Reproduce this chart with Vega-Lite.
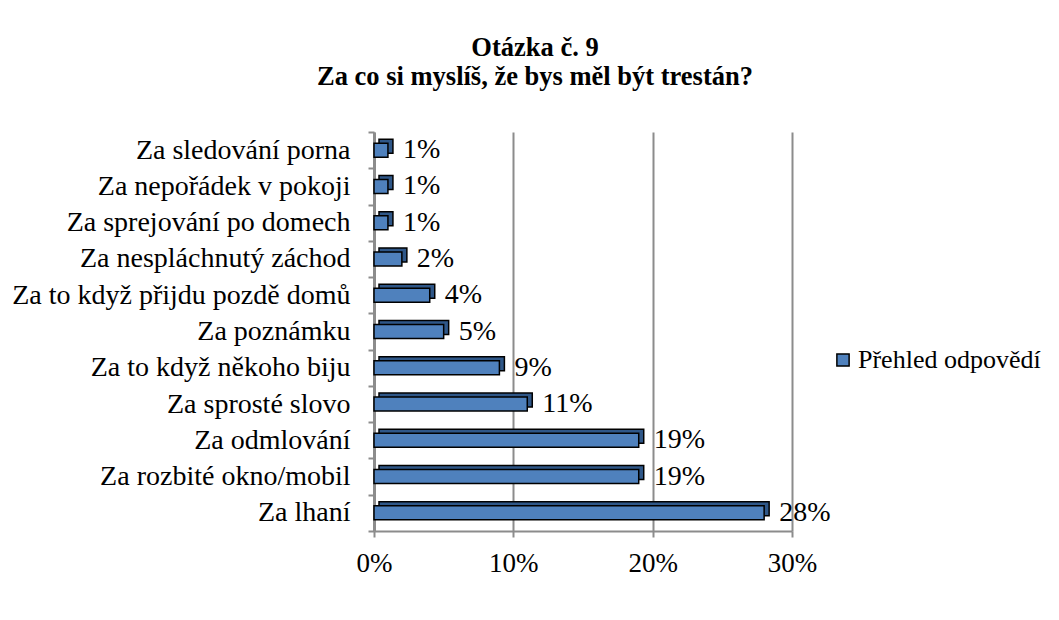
{
  "$schema": "https://vega.github.io/schema/vega-lite/v6.json",
  "autosize": {"type": "none"},
  "padding": {"left": 374, "top": 132, "right": 267, "bottom": 89},
  "width": 418,
  "height": 399,
  "background": "white",
  "title": {
    "text": ["Otázka č. 9", "Za co si myslíš, že bys měl být trestán?"],
    "font": "Liberation Serif",
    "fontSize": 26.5,
    "fontWeight": "bold",
    "color": "black",
    "lineHeight": 29,
    "anchor": "middle",
    "dx": -48,
    "offset": 28
  },
  "config": {
    "view": {"stroke": null},
    "font": "Liberation Serif"
  },
  "data": {
    "values": [
      {"kategorie": "Za sledování porna", "podil": 0.01, "serie": "Přehled odpovědí"},
      {"kategorie": "Za nepořádek v pokoji", "podil": 0.01, "serie": "Přehled odpovědí"},
      {"kategorie": "Za sprejování po domech", "podil": 0.01, "serie": "Přehled odpovědí"},
      {"kategorie": "Za nespláchnutý záchod", "podil": 0.02, "serie": "Přehled odpovědí"},
      {"kategorie": "Za to když přijdu pozdě domů", "podil": 0.04, "serie": "Přehled odpovědí"},
      {"kategorie": "Za poznámku", "podil": 0.05, "serie": "Přehled odpovědí"},
      {"kategorie": "Za to když někoho biju", "podil": 0.09, "serie": "Přehled odpovědí"},
      {"kategorie": "Za sprosté slovo", "podil": 0.11, "serie": "Přehled odpovědí"},
      {"kategorie": "Za odmlování", "podil": 0.19, "serie": "Přehled odpovědí"},
      {"kategorie": "Za rozbité okno/mobil", "podil": 0.19, "serie": "Přehled odpovědí"},
      {"kategorie": "Za lhaní", "podil": 0.28, "serie": "Přehled odpovědí"}
    ]
  },
  "encoding": {
    "y": {
      "field": "kategorie",
      "type": "nominal",
      "sort": null,
      "title": null,
      "scale": {"paddingInner": 0, "paddingOuter": 0},
      "axis": {
        "labelFont": "Liberation Serif",
        "labelFontSize": 28,
        "labelColor": "black",
        "labelPadding": 18,
        "labelLimit": 400,
        "domainColor": "#8c8c8c",
        "domainWidth": 3,
        "tickColor": "#8c8c8c",
        "tickWidth": 2,
        "tickSize": 6,
        "tickBand": "extent",
        "grid": false
      }
    },
    "x": {
      "field": "podil",
      "type": "quantitative",
      "title": null,
      "scale": {"domain": [0, 0.3], "nice": false},
      "axis": {
        "values": [0, 0.1, 0.2, 0.3],
        "format": ".0%",
        "labelFont": "Liberation Serif",
        "labelFontSize": 27,
        "labelColor": "black",
        "labelFlush": false,
        "labelPadding": 13,
        "domainColor": "#8c8c8c",
        "domainWidth": 2,
        "tickColor": "#8c8c8c",
        "tickWidth": 2,
        "tickSize": 6,
        "grid": true,
        "gridColor": "#8c8c8c",
        "gridWidth": 2
      }
    }
  },
  "layer": [
    {
      "mark": {"type": "bar", "size": 14, "xOffset": 5, "x2Offset": 5, "yOffset": -4, "y2Offset": -4, "fill": "#2f5788", "stroke": "black", "strokeWidth": 1.5}
    },
    {
      "mark": {"type": "bar", "size": 14, "stroke": "black", "strokeWidth": 1.5},
      "encoding": {
        "color": {
          "field": "serie",
          "type": "nominal",
          "scale": {"range": ["#4f81bd"]},
          "legend": {
            "title": null,
            "orient": "none",
            "legendX": 456,
            "legendY": 215,
            "symbolType": "square",
            "symbolSize": 150,
            "symbolStrokeColor": "black",
            "symbolStrokeWidth": 1.5,
            "labelOffset": 2,
            "labelFont": "Liberation Serif",
            "labelFontSize": 26,
            "labelColor": "black",
            "labelLimit": 300
          }
        }
      }
    },
    {
      "mark": {"type": "text", "align": "left", "baseline": "middle", "dx": 15, "font": "Liberation Serif", "fontSize": 28, "color": "black"},
      "encoding": {
        "text": {"field": "podil", "type": "quantitative", "format": ".0%"}
      }
    }
  ]
}
